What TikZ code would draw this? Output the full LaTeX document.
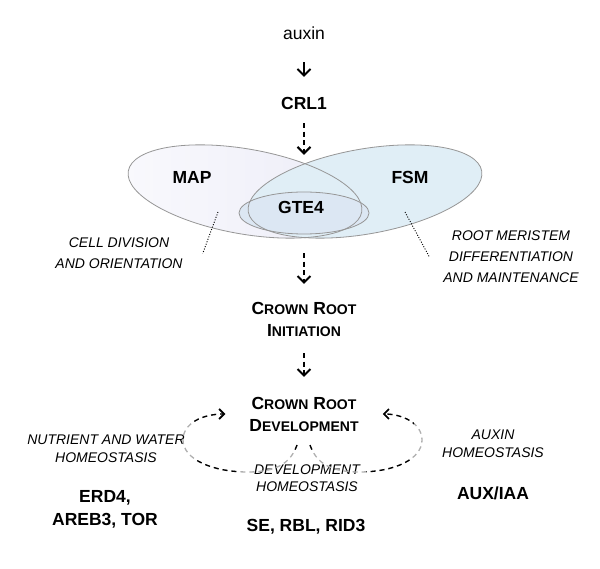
\documentclass[tikz,border=0pt]{standalone}
\usepackage{fontspec}
\setmainfont{Liberation Sans}
\usetikzlibrary{arrows.meta,shapes.geometric}
\definecolor{edgegray}{RGB}{150,150,150}
\definecolor{loopgray}{RGB}{175,175,175}
\definecolor{mapleft}{RGB}{249,249,253}
\definecolor{mapright}{RGB}{236,236,247}
\definecolor{fsmblue}{RGB}{224,238,246}
\definecolor{gteblue}{RGB}{220,231,243}
\newcommand\lowcaps[1]{{\fontsize{14}{22}\selectfont #1}}
\begin{document}
\begin{tikzpicture}[x=1pt,y=-1pt,
    plain/.style={font=\fontsize{17.5}{21}\selectfont,inner sep=0pt},
    gene/.style={font=\bfseries\fontsize{17.5}{23}\selectfont,align=center,inner sep=0pt},
    stage/.style={font=\bfseries\fontsize{17.5}{22}\selectfont,align=center,inner sep=0pt},
    process/.style={font=\itshape\fontsize{14}{21}\selectfont,align=center,inner sep=0pt},
    mapshape/.style={ellipse,minimum width=237pt,minimum height=85pt,inner sep=0pt,rotate=-10},
    fsmshape/.style={ellipse,minimum width=237pt,minimum height=85pt,inner sep=0pt,rotate=10},
    gteshape/.style={ellipse,minimum width=130pt,minimum height=42pt,inner sep=0pt},
    flow/.style={-{Straight Barb[length=6.5pt,width=13pt,line width=2pt]},line width=1.8pt},
    dashflow/.style={flow,line width=1.5pt,dash pattern=on 5pt off 3.5pt},
    pointer/.style={line width=0.9pt,dash pattern=on 1pt off 1.6pt},
    loopline/.style={-{Straight Barb[length=5pt,width=10pt,line width=1.6pt]},line width=1.3pt,dash pattern=on 5pt off 4pt}]
  \useasboundingbox (0,0) rectangle (600,569);
  \node[mapshape,left color=mapleft,right color=mapright] (map ellipse) at (245,191.5) {};
  \node[fsmshape,fill=fsmblue] (fsm ellipse) at (365,191.5) {};
  \node[gteshape,fill=gteblue] (gte4 ellipse) at (304,213) {};
  \node[mapshape,draw=edgegray,line width=0.8pt] at (map ellipse) {};
  \node[fsmshape,draw=edgegray,line width=0.8pt] at (fsm ellipse) {};
  \node[gteshape,draw=edgegray,line width=0.8pt] at (gte4 ellipse) {};

  \node[plain] (auxin) at (304,33) {auxin};
  \node[gene] (crl1) at (304,103) {CRL1};
  \node[gene] (map) at (192,177) {MAP};
  \node[gene] (fsm) at (410,177) {FSM};
  \node[gene] (gte4) at (301,207) {GTE4};
  \node[process,inner xsep=20pt] (cell division) at (119,253.5) {CELL DIVISION\\AND ORIENTATION};
  \node[process,inner xsep=14pt] (root meristem) at (511,256.5) {ROOT MERISTEM\\DIFFERENTIATION\\AND MAINTENANCE};
  \node[stage] (initiation) at (304,319) {C\lowcaps{ROWN} R\lowcaps{OOT}\\I\lowcaps{NITIATION}};
  \node[stage,inner xsep=24pt] (development) at (304,414) {C\lowcaps{ROWN} R\lowcaps{OOT}\\D\lowcaps{EVELOPMENT}};
  \node[process,font=\itshape\fontsize{14}{18}\selectfont] (nutrient) at (106,449) {NUTRIENT AND WATER\\HOMEOSTASIS};
  \node[process,font=\itshape\fontsize{14}{18}\selectfont] (auxin homeostasis) at (493,444) {AUXIN\\HOMEOSTASIS};
  \node[process,font=\itshape\fontsize{14}{16.5}\selectfont] (dev homeostasis) at (307,478) {DEVELOPMENT\\HOMEOSTASIS};
  \node[gene] (erd4) at (105,509.5) {ERD4,\\AREB3, TOR};
  \node[gene] (se) at (306,527) {SE, RBL, RID3};
  \node[gene] (auxiaa) at (493,493) {AUX/IAA};

  \coordinate (map dot) at (218,212);
  \coordinate (fsm dot) at (405,212);
  \coordinate (left start) at (297,445);
  \coordinate (right start) at (310,445);

  \draw[flow,shorten <=22.7pt,shorten >=19.7pt] (auxin.south) -- (crl1.north);
  \draw[dashflow,shorten <=13.7pt,shorten >=37pt] (crl1.south) -- (gte4 ellipse.north);
  \draw[dashflow,shorten <=19pt,shorten >=17.7pt] (gte4 ellipse.south) -- (initiation.north);
  \draw[dashflow,shorten <=16.7pt,shorten >=19.7pt] (initiation.south) -- (development.north);
  \draw[pointer] (map dot) -- (cell division.east);
  \draw[pointer] (fsm dot) -- (root meristem.west);

  \draw[loopline,loopgray] (left start) .. controls (291,462) and (278,472) .. (248,472) .. controls (212,472) and (183,459) .. (183,440) .. controls (183,423) and (203,414) .. (development.west);
  \draw[loopline,loopgray] (right start) .. controls (316,462) and (329,472) .. (359,472) .. controls (395,472) and (422,459) .. (422,440) .. controls (422,423) and (402,414) .. (development.east);
  \begin{scope}
    \clip (195,455) rectangle (240,482) (194,404) rectangle (232,428) (291,440) rectangle (316,450) (366,455) rectangle (412,482) (374,404) rectangle (414,428);
    \draw[loopline,black] (left start) .. controls (291,462) and (278,472) .. (248,472) .. controls (212,472) and (183,459) .. (183,440) .. controls (183,423) and (203,414) .. (development.west);
    \draw[loopline,black] (right start) .. controls (316,462) and (329,472) .. (359,472) .. controls (395,472) and (422,459) .. (422,440) .. controls (422,423) and (402,414) .. (development.east);
  \end{scope}
\end{tikzpicture}
\end{document}
